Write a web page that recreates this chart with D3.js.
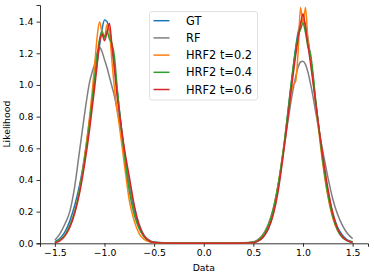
<!DOCTYPE html>
<html>
<head>
<meta charset="utf-8">
<script src="https://cdn.jsdelivr.net/npm/d3@7"></script>
<style>
  body { margin: 0; background: #fff; }
  svg { font-family: "DejaVu Sans", sans-serif; }
</style>
</head>
<body>
<svg id="chart" width="374" height="278"></svg>
<script>
// x grid shared by every curve (finer around the two modes)
var xs = [-1.5, -1.45, -1.4, -1.35, -1.3, -1.25, -1.2, -1.15,
  -1.125, -1.1, -1.075, -1.05, -1.025, -1.0, -0.975, -0.95, -0.925, -0.9, -0.875,
  -0.85, -0.8, -0.75, -0.7, -0.65, -0.6, -0.55, -0.5,
  -0.4, -0.3, -0.2, -0.1, 0, 0.1, 0.2, 0.3, 0.4,
  0.5, 0.55, 0.6, 0.65, 0.7, 0.75, 0.8, 0.85,
  0.875, 0.9, 0.925, 0.95, 0.975, 1.0, 1.025, 1.05, 1.075, 1.1, 1.125,
  1.15, 1.2, 1.25, 1.3, 1.35, 1.4, 1.45, 1.5];

var gt = [0.01, 0.03, 0.07, 0.14, 0.24, 0.37, 0.55, 0.78,
  0.90, 1.02, 1.14, 1.25, 1.35, 1.41, 1.40, 1.34, 1.24, 1.12, 0.98,
  0.84, 0.58, 0.37, 0.21, 0.10, 0.045, 0.018, 0.006,
  0.002, 0.001, 0.001, 0.001, 0.001, 0.001, 0.001, 0.001, 0.002,
  0.005, 0.015, 0.04, 0.09, 0.19, 0.35, 0.57, 0.84,
  0.97, 1.10, 1.23, 1.33, 1.39, 1.41, 1.38, 1.29, 1.18, 1.05, 0.91,
  0.78, 0.53, 0.33, 0.19, 0.10, 0.05, 0.02, 0.01];

var rf = [0.02, 0.06, 0.12, 0.20, 0.36, 0.59, 0.82, 1.02,
  1.08, 1.13, 1.20, 1.24, 1.21, 1.16, 1.11, 1.05, 0.99, 0.93, 0.85,
  0.77, 0.58, 0.39, 0.23, 0.12, 0.05, 0.02, 0.008,
  0.003, 0.002, 0.002, 0.002, 0.002, 0.002, 0.002, 0.002, 0.003,
  0.01, 0.025, 0.06, 0.12, 0.22, 0.37, 0.57, 0.78,
  0.88, 0.97, 1.05, 1.11, 1.145, 1.15, 1.13, 1.08, 1.01, 0.93, 0.84,
  0.75, 0.58, 0.42, 0.28, 0.18, 0.11, 0.06, 0.03];

var hrf02 = [0.005, 0.02, 0.05, 0.11, 0.20, 0.34, 0.55, 0.80,
  0.95, 1.12, 1.30, 1.40, 1.33, 1.30, 1.38, 1.33, 1.15, 0.98, 0.85,
  0.74, 0.50, 0.27, 0.14, 0.06, 0.025, 0.01, 0.004,
  0.002, 0.001, 0.001, 0.001, 0.001, 0.001, 0.001, 0.001, 0.002,
  0.005, 0.02, 0.05, 0.11, 0.21, 0.37, 0.58, 0.82,
  0.93, 1.00, 1.02, 1.20, 1.49, 1.38, 1.49, 1.28, 1.17, 1.04, 0.90,
  0.76, 0.50, 0.30, 0.16, 0.08, 0.035, 0.015, 0.005];

var hrf04 = [0.005, 0.02, 0.05, 0.11, 0.20, 0.34, 0.53, 0.76,
  0.90, 1.04, 1.18, 1.29, 1.34, 1.30, 1.34, 1.29, 1.26, 1.18, 1.00,
  0.84, 0.56, 0.33, 0.18, 0.09, 0.04, 0.015, 0.005,
  0.002, 0.001, 0.001, 0.001, 0.001, 0.001, 0.001, 0.001, 0.002,
  0.006, 0.02, 0.05, 0.11, 0.21, 0.37, 0.58, 0.84,
  0.98, 1.11, 1.22, 1.31, 1.35, 1.39, 1.33, 1.24, 1.20, 1.08, 0.92,
  0.78, 0.52, 0.31, 0.17, 0.08, 0.035, 0.015, 0.005];

var hrf06 = [0.004, 0.015, 0.045, 0.10, 0.19, 0.32, 0.50, 0.72,
  0.85, 0.98, 1.12, 1.27, 1.32, 1.28, 1.33, 1.39, 1.25, 1.10, 0.94,
  0.82, 0.60, 0.42, 0.24, 0.11, 0.045, 0.015, 0.005,
  0.002, 0.001, 0.001, 0.001, 0.001, 0.001, 0.001, 0.001, 0.002,
  0.004, 0.015, 0.04, 0.09, 0.18, 0.33, 0.55, 0.80,
  0.94, 1.06, 1.18, 1.29, 1.38, 1.45, 1.36, 1.25, 1.14, 1.02, 0.90,
  0.78, 0.55, 0.35, 0.19, 0.09, 0.04, 0.015, 0.005];

var names = ["GT", "RF", "HRF2 t=0.2", "HRF2 t=0.4", "HRF2 t=0.6"];
var colors = ["#1f77b4", "#7f7f7f", "#ff7f0e", "#2ca02c", "#d62728"];
var xTicks = [-1.5, -1.0, -0.5, 0.0, 0.5, 1.0, 1.5];
var yTicks = [0, 0.2, 0.4, 0.6, 0.8, 1.0, 1.2, 1.4];

var series = [gt, rf, hrf02, hrf04, hrf06];

var svg = d3.select("#chart"),
    margin = {left: 40, right: 6, top: 5, bottom: 34.7},
    width = +svg.attr("width") - margin.left - margin.right,
    height = +svg.attr("height") - margin.top - margin.bottom;

var x = d3.scaleLinear().domain([-1.65, 1.655]).range([0, width]);
var y = d3.scaleLinear().domain([0, 1.505]).range([height, 0]);

var g = svg.append("g").attr("transform", "translate(" + margin.left + "," + margin.top + ")");

var fmt = function(d) { return d3.format(".1f")(d).replace("-", "\u2212"); };

var xAxis = g.append("g")
    .attr("transform", "translate(0," + height + ")")
    .call(d3.axisBottom(x).tickValues(xTicks).tickFormat(fmt).tickSizeOuter(0).tickSize(3.5).tickPadding(3));
var yAxis = g.append("g")
    .call(d3.axisLeft(y).tickValues(yTicks).tickFormat(fmt).tickSizeOuter(0).tickSize(3.5).tickPadding(3));

[xAxis, yAxis].forEach(function(a) {
  a.selectAll("text").attr("font-size", 9.3).attr("fill", "#000").attr("font-family", "DejaVu Sans");
  a.selectAll("line").attr("stroke", "#000").attr("stroke-width", 0.8);
  a.select(".domain").attr("stroke", "#000").attr("stroke-width", 0.8);
});

// curves
var line = d3.line()
    .x(function(d, i) { return x(xs[i]); })
    .y(function(d) { return y(d); })
    .curve(d3.curveMonotoneX);

g.append("g")
  .selectAll("path")
  .data(series)
  .enter().append("path")
    .attr("fill", "none")
    .attr("stroke", function(d, i) { return colors[i]; })
    .attr("stroke-width", 1.5)
    .attr("stroke-linejoin", "round")
    .attr("d", line);

// axis labels
g.append("text")
    .attr("x", x(0))
    .attr("y", height + 28)
    .attr("text-anchor", "middle")
    .attr("font-size", 9.3)
    .text("Data");

g.append("text")
    .attr("transform", "translate(" + (-30) + "," + (height / 2) + ")rotate(-90)")
    .attr("text-anchor", "middle")
    .attr("font-size", 9.3)
    .text("Likelihood");

// legend
var lg = svg.append("g").attr("transform", "translate(149.5,11.5)");
lg.append("rect")
    .attr("width", 108)
    .attr("height", 88.5)
    .attr("rx", 2.5)
    .attr("fill", "#fff")
    .attr("fill-opacity", 0.8)
    .attr("stroke", "#d9d9d9")
    .attr("stroke-width", 0.8);

var item = lg.selectAll("g.item")
  .data(names)
  .enter().append("g")
    .attr("class", "item")
    .attr("transform", function(d, i) { return "translate(0," + (9.2 + i * 17.2) + ")"; });

item.append("line")
    .attr("x1", 4).attr("x2", 20)
    .attr("stroke", function(d, i) { return colors[i]; })
    .attr("stroke-width", 1.5);

item.append("text")
    .attr("x", 36.5)
    .attr("dy", "0.36em")
    .attr("font-size", 11.4)
    .text(function(d) { return d; });
</script>
</body>
</html>
